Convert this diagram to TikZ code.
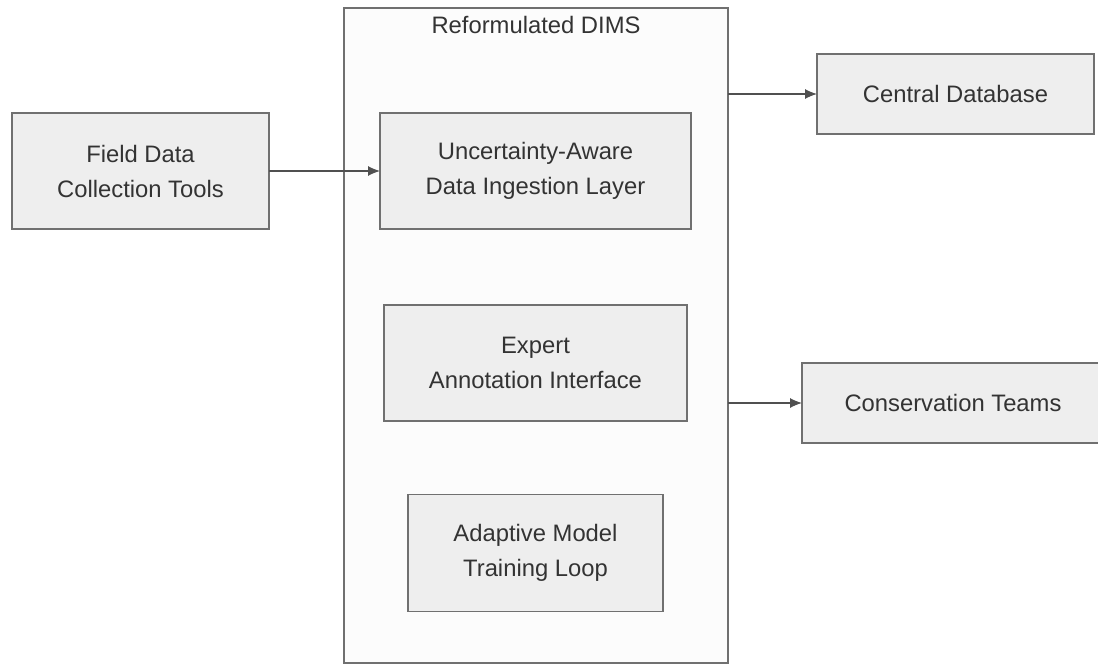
\documentclass[tikz,border=0pt]{standalone}
\usepackage{fontspec}
\setmainfont{Liberation Sans}
\usetikzlibrary{arrows.meta, positioning}

\definecolor{boxfill}{HTML}{EEEEEE}
\definecolor{boxline}{HTML}{707070}
\definecolor{dimsfill}{HTML}{FCFCFC}
\definecolor{arrowline}{HTML}{505050}
\definecolor{labeltext}{HTML}{333333}

\begin{document}
\begin{tikzpicture}[x=1pt, y=-1pt,
    every node/.style={font=\fontsize{23.8}{35}\selectfont, text=labeltext, align=center, inner sep=0pt, outer sep=0pt},
    block/.style={draw=boxline, fill=boxfill, line width=1.2pt, minimum height=116pt},
    flow/.style={draw=arrowline, line width=1.1pt, -{Latex[length=12pt, width=10pt]}}]

    \useasboundingbox (0,0) rectangle (1098,664);

    \node[draw=boxline, fill=dimsfill, line width=1.2pt, minimum width=384pt, minimum height=655pt] (dims) at (536, 335.5) {};
    \node[] (dimslabel) at (536, 25) {Reformulated DIMS};

    \node[block, minimum width=257pt] (field) at (140.5, 171) {Field Data\\Collection Tools};
    \node[block, minimum width=311pt] (ingest) at (535.5, 171) {Uncertainty-Aware\\Data Ingestion Layer};
    \node[block, minimum width=303pt] (expert) at (535.5, 363) {Expert\\Annotation Interface};
    \node[block, minimum width=255pt, minimum height=117pt] (adaptive) at (535.5, 553) {Adaptive Model\\Training Loop};
    \node[block, minimum width=277pt, minimum height=80pt] (cdb) at (955.5, 94) {Central Database};
    \node[block, minimum width=302pt, minimum height=80pt] (teams) at (953, 403) {Conservation Teams};

    \draw[flow] (field) -- (ingest);
    \draw[flow] (cdb.west -| dims.east) -- (cdb);
    \draw[flow] (teams.west -| dims.east) -- (teams);
\end{tikzpicture}
\end{document}
